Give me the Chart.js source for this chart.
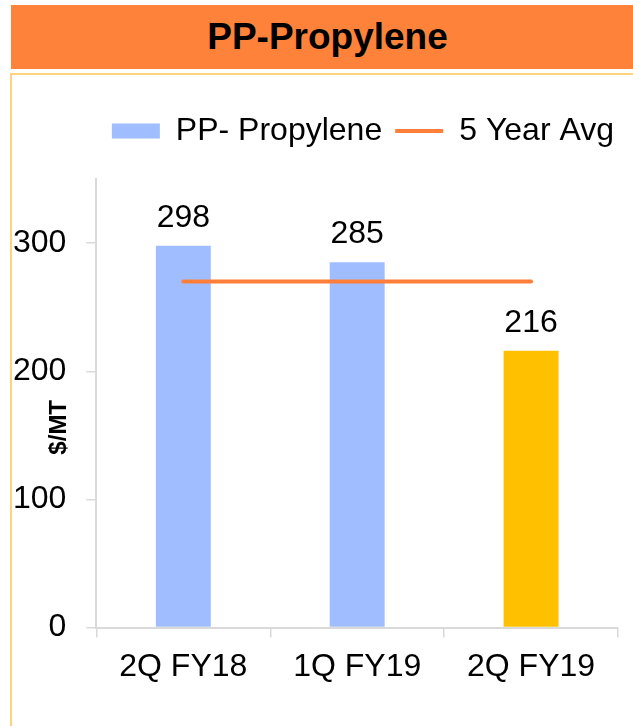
<!DOCTYPE html>
<html><head><meta charset="utf-8">
<script src="https://cdn.jsdelivr.net/npm/chart.js@4/dist/chart.umd.min.js"></script>
<style>
html,body{margin:0;padding:0;background:#fff;width:633px;height:726px;overflow:hidden;}
#title{position:absolute;left:11px;top:5px;width:633px;height:64px;background:#FE823A;color:#000;font:bold 37px "Liberation Sans",Arial,sans-serif;display:flex;align-items:center;justify-content:center;}
#box{position:absolute;left:10px;top:73px;width:660px;height:700px;border:2px solid #FFD27F;box-sizing:border-box;}
#wrap{position:absolute;left:0;top:0;width:633px;height:726px;}
</style></head>
<body>
<div id="title">PP-Propylene</div>
<div id="box"></div>
<div id="wrap"><canvas id="c" width="633" height="726"></canvas></div>
<script>
const categories = ['2Q FY18', '1Q FY19', '2Q FY19'];
const seriesName = 'PP- Propylene';
const values = [298, 285, 216];
const avgName = '5 Year Avg';
const avgValues = [270, 270, 270];
const yTicks = [0, 100, 200, 300];
const yMax = 350;
const yTitle = '$/MT';

const blue = '#A0BEFF';
const gold = '#FFC000';
const orange = '#FF7F3A';
const barColors = [blue, blue, gold];
const FONT = '"Liberation Sans", Arial, sans-serif';
const FS = 32;

Chart.defaults.font.family = FONT;
Chart.defaults.color = '#000';

const valueLabels = {
  id: 'valueLabels',
  afterDatasetsDraw(chart) {
    const meta = chart.getDatasetMeta(0);
    const ctx = chart.ctx;
    ctx.save();
    ctx.font = FS + 'px ' + FONT;
    ctx.fillStyle = '#000';
    ctx.textAlign = 'center';
    ctx.textBaseline = 'alphabetic';
    meta.data.forEach((el, i) => ctx.fillText(String(values[i]), el.x, el.y - 19));
    ctx.restore();
  }
};

const yTitlePlugin = {
  id: 'yTitlePlugin',
  afterDraw(chart) {
    const a = chart.chartArea, ctx = chart.ctx;
    ctx.save();
    ctx.translate(59, (a.top + a.bottom) / 2 + 24);
    ctx.rotate(-Math.PI / 2);
    ctx.font = 'bold 24px ' + FONT;
    ctx.fillStyle = '#000';
    ctx.textAlign = 'center';
    ctx.textBaseline = 'middle';
    ctx.fillText(yTitle, 0, 0);
    ctx.restore();
  }
};

const legendTweak = {
  id: 'legendTweak',
  beforeUpdate(chart) {
    const lg = chart.legend;
    if (lg && !lg._patched) {
      const f = lg.fit;
      lg.fit = function () {
        f.call(this);
        this.height += 22;
        if (this.lineWidths) this.lineWidths[0] += 0.01;
      };
      lg._patched = true;
    }
  },
  afterLayout(chart) {
    const lg = chart.legend;
    if (lg) { lg.left += 9; lg.right += 9; }
  }
};

new Chart(document.getElementById('c'), {
  type: 'bar',
  data: {
    labels: categories,
    datasets: [
      {
        type: 'bar', label: seriesName, data: values,
        backgroundColor: barColors, borderWidth: 0,
        barPercentage: 0.316, categoryPercentage: 1, order: 1
      },
      {
        type: 'line', label: avgName, data: avgValues,
        borderColor: orange, backgroundColor: orange, borderWidth: 4,
        borderCapStyle: 'round', pointRadius: 0, pointHoverRadius: 0, order: 0
      }
    ]
  },
  options: {
    responsive: false, animation: false, devicePixelRatio: 1,
    layout: { padding: { left: 13, right: 15, top: 102, bottom: 40 } },
    plugins: {
      tooltip: { enabled: false },
      legend: {
        position: 'top', align: 'end',
        labels: {
          usePointStyle: true, pointStyleWidth: 48, boxHeight: 15, padding: 13,
          color: '#000', font: { size: FS },
          generateLabels: () => [
            { text: seriesName, fillStyle: blue, strokeStyle: blue, lineWidth: 0, pointStyle: 'rect', datasetIndex: 0, hidden: false },
            { text: avgName, fillStyle: orange, strokeStyle: orange, lineWidth: 4, pointStyle: 'line', datasetIndex: 1, hidden: false }
          ]
        }
      }
    },
    scales: {
      x: {
        offset: true,
        afterFit: s => { s.height -= 10; },
        grid: { offset: true, drawOnChartArea: false, drawTicks: true, tickLength: 10, color: '#D9D9D9', lineWidth: 1.5 },
        border: { display: true, color: '#D9D9D9', width: 2 },
        ticks: { color: '#000', font: { size: FS }, padding: 10, maxRotation: 0, autoSkip: false }
      },
      y: {
        min: 0, max: yMax,
        afterBuildTicks: s => { s.ticks = yTicks.map(v => ({ value: v })); },
        afterFit: s => { s.width -= 20; },
        grid: { drawOnChartArea: false, drawTicks: true, tickLength: 10, color: '#D9D9D9', lineWidth: 1.5 },
        border: { display: true, color: '#D9D9D9', width: 2 },
        ticks: { color: '#000', font: { size: FS }, padding: 20 }
      }
    }
  },
  plugins: [valueLabels, yTitlePlugin, legendTweak]
});
</script>
</body></html>
